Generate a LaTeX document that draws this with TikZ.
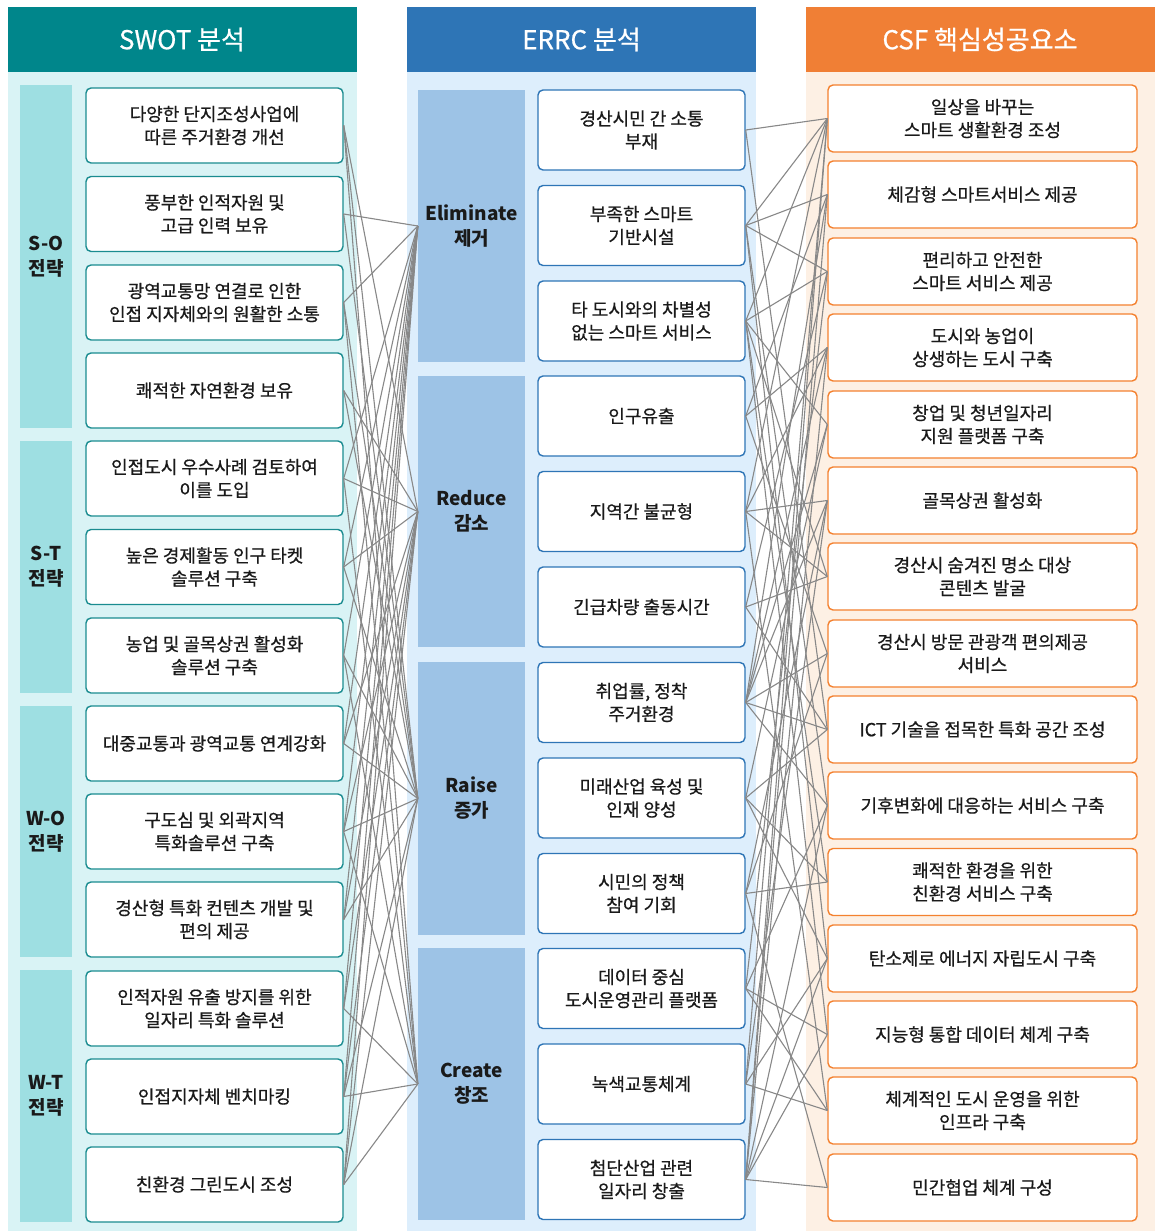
\documentclass[tikz,border=0pt]{standalone}
\usepackage{fontspec}
\setmainfont{Noto Sans CJK KR}[UprightFeatures={FakeBold=0.6}]
\definecolor{swhead}{HTML}{00868B}
\definecolor{swbg}{HTML}{D9F3F5}
\definecolor{swgrp}{HTML}{9EDFE2}
\definecolor{swline}{HTML}{1A8C90}
\definecolor{erhead}{HTML}{2E75B6}
\definecolor{erbg}{HTML}{DDEEFC}
\definecolor{ergrp}{HTML}{9DC3E6}
\definecolor{erline}{HTML}{2E75B6}
\definecolor{cshead}{HTML}{F07F35}
\definecolor{csbg}{HTML}{FDF0E4}
\definecolor{csline}{HTML}{F4812F}
\definecolor{connc}{HTML}{888888}
\definecolor{txt}{HTML}{1A1A1A}
\begin{document}
\begin{tikzpicture}[x=1pt,y=-1pt,
  head/.style={fill=#1, text=white, minimum width=349pt, minimum height=65pt, inner sep=0pt, font=\fontsize{26}{30}\selectfont},
  bgrect/.style={fill=#1, minimum width=349pt, minimum height=1159pt, inner sep=0pt},
  grp/.style={fill=#1, text=txt, inner sep=0pt, align=center, font=\fontsize{19}{25}\selectfont\bfseries},
  box/.style={draw=#1, text=txt, line width=1.4pt, rounded corners=5pt, fill=white, align=center, inner sep=0pt, font=\fontsize{18}{23}\selectfont},
  swb/.style={box=swline, minimum width=257pt, minimum height=75pt},
  erb/.style={box=erline, minimum width=207pt, minimum height=80pt},
  csb/.style={box=csline, minimum width=309pt, minimum height=67pt},
  conn/.style={draw=connc, line width=1.1pt}
]
\useasboundingbox (0,0) rectangle (1154,1231);
\fill[white] (0,0) rectangle (1154,1231);
% column backgrounds and headers
\node[bgrect=swbg] (swbgn) at (182,651.5) {};
\node[bgrect=erbg] (erbgn) at (581.5,651.5) {};
\node[bgrect=csbg] (csbgn) at (980,651.5) {};
\node[head=swhead] (hsw) at (182,39.5) {SWOT 분석};
\node[head=erhead] (her) at (581.5,39.5) {ERRC 분석};
\node[head=cshead] (hcs) at (980,39.5) {CSF 핵심성공요소};
% SWOT groups
\node[grp=swgrp, minimum width=52pt, minimum height=343pt] (so) at (46,256.5) {S-O\\전략};
\node[grp=swgrp, minimum width=52pt, minimum height=252pt] (st) at (46,567) {S-T\\전략};
\node[grp=swgrp, minimum width=52pt, minimum height=251pt] (wo) at (46,831.5) {W-O\\전략};
\node[grp=swgrp, minimum width=52pt, minimum height=252pt] (wt) at (46,1096) {W-T\\전략};
% ERRC groups
\node[grp=ergrp, minimum width=107pt, minimum height=272pt] (El) at (471.5,226) {Eliminate\\제거};
\node[grp=ergrp, minimum width=107pt, minimum height=271pt] (Re) at (471.5,511.5) {Reduce\\감소};
\node[grp=ergrp, minimum width=107pt, minimum height=273pt] (Ra) at (471.5,798.5) {Raise\\증가};
\node[grp=ergrp, minimum width=107pt, minimum height=272pt] (Cr) at (471.5,1084) {Create\\창조};
% SWOT boxes
\node[swb] (s1) at (214.5,125.5) {다양한 단지조성사업에\\따른 주거환경 개선};
\node[swb] (s2) at (214.5,214) {풍부한 인적자원 및\\고급 인력 보유};
\node[swb] (s3) at (214.5,302.5) {광역교통망 연결로 인한\\인접 지자체와의 원활한 소통};
\node[swb] (s4) at (214.5,390.5) {쾌적한 자연환경 보유};
\node[swb] (s5) at (214.5,478.5) {인접도시 우수사례 검토하여\\이를 도입};
\node[swb] (s6) at (214.5,567) {높은 경제활동 인구 타켓\\솔루션 구축};
\node[swb] (s7) at (214.5,655.5) {농업 및 골목상권 활성화\\솔루션 구축};
\node[swb] (s8) at (214.5,743.5) {대중교통과 광역교통 연계강화};
\node[swb] (s9) at (214.5,831.5) {구도심 및 외곽지역\\특화솔루션 구축};
\node[swb] (s10) at (214.5,919.5) {경산형 특화 컨텐츠 개발 및\\편의 제공};
\node[swb] (s11) at (214.5,1008.5) {인적자원 유출 방지를 위한\\일자리 특화 솔루션};
\node[swb] (s12) at (214.5,1096.5) {인접지자체 벤치마킹};
\node[swb] (s13) at (214.5,1184.5) {친환경 그린도시 조성};
% ERRC boxes
\node[erb] (e1) at (641.5,130) {경산시민 간 소통\\부재};
\node[erb] (e2) at (641.5,225.5) {부족한 스마트\\기반시설};
\node[erb] (e3) at (641.5,321) {타 도시와의 차별성\\없는 스마트 서비스};
\node[erb] (e4) at (641.5,416) {인구유출};
\node[erb] (e5) at (641.5,511.5) {지역간 불균형};
\node[erb] (e6) at (641.5,607) {긴급차량 출동시간};
\node[erb] (e7) at (641.5,702.5) {취업률, 정착\\주거환경};
\node[erb] (e8) at (641.5,798) {미래산업 육성 및\\인재 양성};
\node[erb] (e9) at (641.5,893.5) {시민의 정책\\참여 기회};
\node[erb] (e10) at (641.5,988.5) {데이터 중심\\도시운영관리 플랫폼};
\node[erb] (e11) at (641.5,1084) {녹색교통체계};
\node[erb] (e12) at (641.5,1179.5) {첨단산업 관련\\일자리 창출};
% CSF boxes
\node[csb] (c1) at (982.5,118.5) {일상을 바꾸는\\스마트 생활환경 조성};
\node[csb] (c2) at (982.5,194.5) {체감형 스마트서비스 제공};
\node[csb] (c3) at (982.5,271.5) {편리하고 안전한\\스마트 서비스 제공};
\node[csb] (c4) at (982.5,347.5) {도시와 농업이\\상생하는 도시 구축};
\node[csb] (c5) at (982.5,424.5) {창업 및 청년일자리\\지원 플랫폼 구축};
\node[csb] (c6) at (982.5,500.5) {골목상권 활성화};
\node[csb] (c7) at (982.5,576.5) {경산시 숨겨진 명소 대상\\콘텐츠 발굴};
\node[csb] (c8) at (982.5,653.5) {경산시 방문 관광객 편의제공\\서비스};
\node[csb] (c9) at (982.5,729.5) {ICT 기술을 접목한 특화 공간 조성};
\node[csb] (c10) at (982.5,805.5) {기후변화에 대응하는 서비스 구축};
\node[csb] (c11) at (982.5,882) {쾌적한 환경을 위한\\친환경 서비스 구축};
\node[csb] (c12) at (982.5,958.5) {탄소제로 에너지 자립도시 구축};
\node[csb] (c13) at (982.5,1034.5) {지능형 통합 데이터 체계 구축};
\node[csb] (c14) at (982.5,1110.5) {체계적인 도시 운영을 위한\\인프라 구축};
\node[csb] (c15) at (982.5,1187.5) {민간협업 체계 구성};
% SWOT -> ERRC connectors
\foreach \a/\b in {1/Ra,1/Cr,1/Re,2/El,2/Ra,3/El,3/Cr,3/Ra,4/Re,4/Ra,
  5/Re,5/El,5/Cr,6/Re,6/El,6/Ra,7/Ra,7/El,7/Cr,8/Ra,8/Re,8/El,
  9/Ra,9/Re,9/El,9/Cr,10/El,10/Re,10/Ra,11/Cr,11/El,11/Re,
  12/Cr,12/Ra,12/Re,12/El,13/Cr,13/Ra,13/Re,13/El}
  \draw[conn] (s\a.east) -- (\b.west);
% ERRC -> CSF connectors
\foreach \a/\b in {1/1,1/9,2/1,2/2,2/3,2/10,2/12,3/1,3/3,3/5,3/7,3/11,3/13,
  4/4,4/8,4/2,5/6,5/1,5/4,5/7,5/14,6/7,6/9,6/3,
  7/5,7/6,7/8,7/9,7/10,7/4,7/2,8/9,8/5,8/11,8/12,
  9/11,9/6,9/8,9/15,10/13,10/14,10/10,10/3,11/14,11/12,11/6,11/1,
  12/15,12/12,12/13,12/10,12/4,12/2,12/1}
  \draw[conn] (e\a.east) -- (c\b.west);
\end{tikzpicture}
\end{document}
